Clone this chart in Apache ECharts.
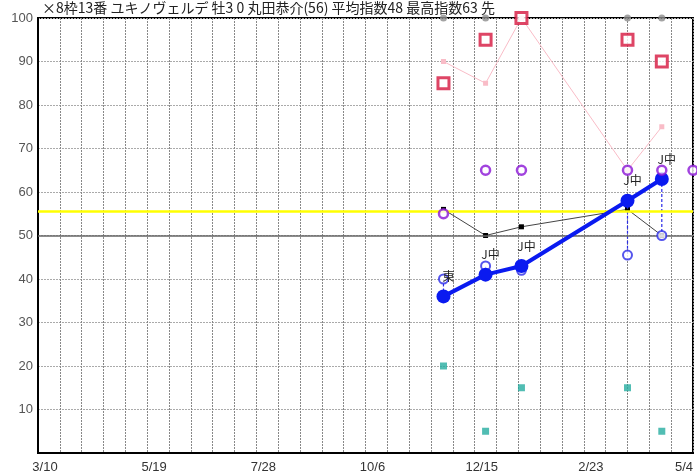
<!DOCTYPE html>
<html>
<head>
<meta charset="utf-8">
<script src="https://cdn.jsdelivr.net/npm/echarts@6/dist/echarts.min.js"></script>
<style>
  html, body { margin: 0; padding: 0; background: #fff; }
  #chart { width: 697px; height: 475px; }
</style>
</head>
<body>
<div id="chart"></div>
<script>
// Horse record: race dates, venues and index values
const titleText = '×8枠13番 ユキノヴェルデ 牡3 0 丸田恭介(56) 平均指数48 最高指数63 先';
const startDate = '2018-03-10';
const endDate = '2019-05-04';
const raceDates = ['2018-11-25', '2018-12-22', '2019-01-14', '2019-03-23', '2019-04-14'];
const venues = ['東', 'J中', 'J中', 'J中', 'J中'];
const mainIndex = [36, 41, 43, 58, 63];
const subIndex = [40, 43, 42, 45.5, 50];
const baseIndex = [56, 50, 52, 56, 50];
const paceIndex = [90, 85, 100, 65, 75];
const topIndex = [85, 95, 100, 95, 90];
const gradeDates = ['2018-11-25', '2018-12-22', '2019-01-14', '2019-03-23', '2019-04-14', '2019-05-04'];
const gradeIndex = [55, 65, 65, 65, 65, 65];
const lowIndex = [20, 5, 15, 15, 5];
const runMarks = [100, 100, null, 100, 100];
const averageLine = 55.6;
const midLine = 50;

const DAY = 86400000;
const t0 = Date.parse(startDate + 'T00:00:00Z');
const dayOf = s => Math.round((Date.parse(s + 'T00:00:00Z') - t0) / DAY);
const spanDays = dayOf(endDate);
const fmtDay = d => {
  const dt = new Date(t0 + d * DAY);
  return (dt.getUTCMonth() + 1) + '/' + dt.getUTCDate();
};
const pairs = (dates, vals) => dates.map((d, i) => [dayOf(d), vals[i]]).filter(p => p[1] != null);

const chart = echarts.init(document.getElementById('chart'));
chart.setOption({
  animation: false,
  backgroundColor: '#fff',
  title: {
    text: titleText,
    left: 42, top: 1, padding: 0,
    textStyle: { fontSize: 14, fontWeight: 'normal', color: '#222', fontFamily: 'Noto Sans CJK JP' }
  },
  grid: {
    left: 38, right: 4, top: 18, bottom: 22,
    outerBoundsMode: 'none', containLabel: false,
    show: true, borderColor: '#000', borderWidth: 2
  },
  xAxis: [
    {
      type: 'value', min: 0, max: spanDays, interval: 70,
      axisLine: { show: true, lineStyle: { color: '#000', width: 2 } },
      axisTick: { show: false },
      splitLine: { show: false },
      axisLabel: {
        formatter: v => fmtDay(v), color: '#333', fontSize: 13, margin: 8,
        padding: [0, 0, 0, 14], fontFamily: 'Liberation Sans',
        alignMaxLabel: 'right'
      }
    },
    {
      type: 'value', min: 0, max: spanDays, interval: 14, position: 'bottom',
      axisLine: { show: false }, axisTick: { show: false }, axisLabel: { show: false },
      splitLine: { show: true, lineStyle: { color: '#888', width: 1, type: [2, 1] } }
    }
  ],
  yAxis: {
    type: 'value', min: 0, max: 100, interval: 10,
    axisLine: { show: true, lineStyle: { color: '#000', width: 2 } },
    axisTick: { show: false },
    axisLabel: { formatter: v => (v === 0 ? '' : v), color: '#555', fontSize: 13, margin: 5, fontFamily: 'Liberation Sans' },
    splitLine: { show: true, lineStyle: { color: '#aaa', width: 1, type: [2, 1] } }
  },
  series: [
    {
      name: 'pace', type: 'line', z: 2,
      data: pairs(raceDates, paceIndex),
      symbol: 'rect', symbolSize: 5,
      lineStyle: { color: '#f9bcc7', width: 1 },
      itemStyle: { color: '#f9bcc7' }
    },
    {
      name: 'base', type: 'line', z: 3,
      data: pairs(raceDates, baseIndex),
      symbol: 'rect', symbolSize: 5,
      lineStyle: { color: '#444', width: 1 },
      itemStyle: { color: '#000' },
      markLine: {
        silent: true, symbol: 'none', label: { show: false },
        data: [
          { yAxis: midLine, lineStyle: { color: '#666', width: 1.5, type: 'solid' } },
          { yAxis: averageLine, lineStyle: { color: '#ffff00', width: 2.5, type: 'solid' } }
        ]
      }
    },
    {
      name: 'link', type: 'custom', z: 4,
      data: raceDates.map((d, i) => [dayOf(d), mainIndex[i], subIndex[i]]),
      renderItem: (params, api) => {
        const x = api.value(0);
        const a = api.coord([x, api.value(1)]);
        const b = api.coord([x, api.value(2)]);
        return {
          type: 'line',
          shape: { x1: a[0], y1: a[1], x2: b[0], y2: b[1] },
          style: { stroke: '#2a2ae8', lineWidth: 1.2, lineDash: [3, 2] }
        };
      }
    },
    {
      name: 'sub', type: 'scatter', z: 5,
      data: pairs(raceDates, subIndex),
      symbol: 'circle', symbolSize: 9,
      itemStyle: { color: '#fff', borderColor: '#2a2ae8', borderWidth: 2 }
    },
    {
      name: 'main', type: 'line', z: 6,
      data: pairs(raceDates, mainIndex),
      symbol: 'circle', symbolSize: 14,
      lineStyle: { color: '#0a1af0', width: 4 },
      itemStyle: { color: '#0a1af0' },
      label: {
        show: true, position: 'top', distance: 7, offset: [5, 0],
        formatter: p => venues[p.dataIndex], color: '#222', fontSize: 12,
        fontFamily: 'Noto Sans CJK JP'
      }
    },
    {
      name: 'top', type: 'scatter', z: 7,
      data: pairs(raceDates, topIndex),
      symbol: 'rect', symbolSize: 11,
      itemStyle: { color: '#fff', borderColor: '#d6173f', borderWidth: 3 }
    },
    {
      name: 'grade', type: 'scatter', z: 7,
      data: pairs(gradeDates, gradeIndex),
      symbol: 'circle', symbolSize: 9,
      itemStyle: { color: '#fff', borderColor: '#8a14d6', borderWidth: 2.5 }
    },
    {
      name: 'low', type: 'scatter', z: 7,
      data: pairs(raceDates, lowIndex),
      symbol: 'rect', symbolSize: 7,
      itemStyle: { color: '#26aca0' }
    },
    {
      name: 'run', type: 'scatter', z: 8,
      data: pairs(raceDates, runMarks),
      symbol: 'circle', symbolSize: 7,
      itemStyle: { color: '#8c8c8c' }
    }
  ]
});
</script>
</body>
</html>
